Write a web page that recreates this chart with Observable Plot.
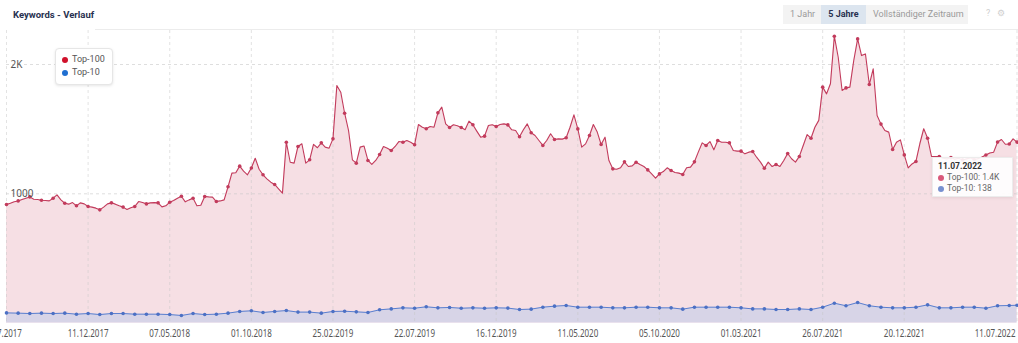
<!DOCTYPE html>
<html><head><meta charset="utf-8">
<script src="https://cdn.jsdelivr.net/npm/d3@7"></script>
<script src="https://cdn.jsdelivr.net/npm/@observablehq/plot@0.6"></script>
<style>
body{margin:0;background:#fff;font-family:Roboto,"Open Sans",sans-serif;}
#wrap{position:relative;width:1018px;height:343px;overflow:hidden;background:#fff;}
#title{position:absolute;left:13px;top:9px;font-size:9.5px;font-weight:700;color:#283150;white-space:nowrap;}
#hline{position:absolute;left:95px;right:0;top:29px;height:1px;background:#ececec;}
#btns{position:absolute;left:783px;top:5px;width:185px;height:19px;background:#f3f3f3;font-size:9px;color:#9a9a9a;}
#btns span{position:absolute;top:0;line-height:19px;white-space:nowrap;}
#b5{background:#dce5ef;color:#283150;font-weight:700;text-align:center;}
#icons{position:absolute;top:8px;left:986px;font-size:9px;color:#cfcfcf;white-space:nowrap;}
#chart{position:absolute;left:0;top:30px;}
#legend{position:absolute;left:55px;top:48px;width:56px;height:35px;background:#fff;border:1px solid #e6e6e6;border-radius:4px;box-shadow:0 1px 3px rgba(0,0,0,0.10);font-size:9px;color:#555;}
.lg{position:absolute;left:6px;white-space:nowrap;line-height:11px;}
.dot{display:inline-block;width:6px;height:6px;border-radius:50%;margin-right:4px;vertical-align:-0.5px;}
#tip{position:absolute;left:932px;top:157px;width:79px;height:38px;background:rgba(255,255,255,0.9);border:1px solid #ececec;box-shadow:0 1px 3px rgba(0,0,0,0.08);font-size:8.5px;color:#666;}
#tip div{position:absolute;left:5px;white-space:nowrap;line-height:11px;}
#tip .d{display:inline-block;width:6px;height:6px;border-radius:50%;margin-right:3px;vertical-align:-0.5px;}
</style>
</head><body>
<div id="wrap">
  <div id="title">Keywords - Verlauf</div>
  <div id="hline"></div>
  <div id="btns">
    <span style="left:7px">1 Jahr</span>
    <span id="b5" style="left:38px;width:45px">5 Jahre</span>
    <span style="left:90px">Vollständiger Zeitraum</span>
  </div>
  <div id="icons">?&nbsp;&nbsp;&nbsp;⚙</div>
  <div id="chart"></div>
  <div id="legend">
    <div class="lg" style="top:5px"><span class="dot" style="background:#d0112b"></span>Top-100</div>
    <div class="lg" style="top:18px"><span class="dot" style="background:#1f6fd1"></span>Top-10</div>
  </div>
  <div id="tip">
    <div style="top:3px;color:#333;font-weight:700">11.07.2022</div>
    <div style="top:14px"><span class="d" style="background:#d9587a"></span>Top-100: 1.4K</div>
    <div style="top:25px"><span class="d" style="background:#7790d0"></span>Top-10: 138</div>
  </div>
</div>
<script>
// weekly series starting 17.07.2017
const weekStart = "2017-07-17";
const top100Weekly = [
  917, 927, 938, 945, 956, 966, 976, 958, 956, 950,
  948, 945, 966, 992, 953, 927, 920, 932, 907, 930,
  922, 902, 897, 889, 876, 897, 922, 930, 920, 907,
  897, 879, 892, 902, 940, 932, 922, 930, 932, 930,
  899, 907, 935, 948, 966, 981, 938, 953, 966, 907,
  912, 979, 976, 974, 940, 945, 953, 1054, 1160, 1163,
  1214, 1175, 1147, 1200, 1275, 1190, 1147, 1116, 1090, 1072,
  1039, 1005, 1399, 1244, 1237, 1366, 1387, 1237, 1263, 1382,
  1356, 1394, 1361, 1353, 1425, 1837, 1786, 1623, 1490, 1263,
  1237, 1361, 1369, 1258, 1227, 1258, 1304, 1366, 1353, 1335,
  1366, 1405, 1399, 1412, 1399, 1379, 1536, 1515, 1503, 1521,
  1515, 1626, 1670, 1541, 1513, 1534, 1526, 1513, 1495, 1562,
  1534, 1485, 1438, 1446, 1528, 1534, 1521, 1536, 1541, 1533,
  1495, 1489, 1441, 1495, 1541, 1472, 1451, 1412, 1374, 1412,
  1464, 1420, 1425, 1423, 1433, 1515, 1611, 1502, 1361, 1386,
  1451, 1536, 1477, 1381, 1438, 1257, 1193, 1190, 1201, 1247,
  1211, 1216, 1244, 1226, 1211, 1185, 1154, 1121, 1154, 1172,
  1201, 1180, 1165, 1160, 1149, 1201, 1206, 1247, 1322, 1394,
  1374, 1404, 1340, 1412, 1399, 1399, 1394, 1335, 1330, 1330,
  1309, 1322, 1327, 1283, 1245, 1198, 1245, 1211, 1227, 1211,
  1258, 1312, 1271, 1245, 1289, 1374, 1458, 1430, 1515, 1568,
  1825, 1773, 1851, 2219, 2056, 1799, 1819, 1825, 2031, 2198,
  2069, 2082, 1845, 1966, 1606, 1539, 1490, 1477, 1343, 1399,
  1417, 1301, 1200, 1231, 1250, 1387, 1503, 1430, 1289, 1289,
  1289, 1275, 1270, 1280, 1268, 1275, 1262, 1270, 1278, 1265,
  1272, 1285, 1300, 1315, 1322, 1400, 1420, 1383, 1385, 1425,
  1400
];
// Top-10, one value every 3 weeks (last one = final week)
const top10Every3Weeks = [
  79, 77, 74, 77, 74, 77, 69, 74, 66, 74,
  74, 69, 69, 69, 66, 59, 74, 66, 69, 77,
  90, 95, 82, 90, 97, 85, 85, 77, 90, 92,
  87, 82, 103, 110, 118, 115, 126, 118, 121, 115,
  118, 115, 118, 116, 105, 108, 123, 131, 136, 123,
  123, 123, 118, 118, 123, 123, 118, 118, 108, 123,
  123, 123, 123, 118, 110, 110, 105, 105, 110, 105,
  123, 154, 134, 159, 134, 123, 118, 118, 123, 141,
  118, 118, 123, 123, 115, 134, 136, 138
];
const xTickLabels = ["17.07.2017","11.12.2017","07.05.2018","01.10.2018","25.02.2019","22.07.2019","16.12.2019","11.05.2020","05.10.2020","01.03.2021","26.07.2021","20.12.2021","11.07.2022"];
const yTickValues = [1000, 2000];
const yTickLabels = ["1000", "2K"];

const DAY = 86400000;
const t0 = new Date(weekStart + "T00:00:00Z");
const lastWeek = top100Weekly.length - 1;
const d100 = top100Weekly.map((v, i) => ({date: new Date(+t0 + i * 7 * DAY), v, mark: i % 3 === 0 || i === lastWeek}));
const d10 = top10Every3Weeks.map((v, k) => ({date: new Date(+t0 + Math.min(3 * k, lastWeek) * 7 * DAY), v}));
const parse = d3.utcParse("%d.%m.%Y");
const ticks = xTickLabels.map(parse);
const fmt = d3.utcFormat("%d.%m.%Y");
const lab = {frameAnchor: "bottom", dy: 10, lineAnchor: "middle", fill: "#555", fontSize: 10};

const chart = Plot.plot({
  width: 1018, height: 313,
  marginTop: 0, marginLeft: 6, marginRight: 1.5, marginBottom: 20,
  x: {type: "utc", domain: [t0, d100[lastWeek].date], range: [6, 1016.5], axis: null},
  y: {domain: [0, 2000], range: [292.6, 34], axis: null},
  style: {background: "transparent"},
  marks: [
    Plot.areaY(d100, {x: "date", y: "v", fill: "#c9415f", fillOpacity: 0.17}),
    Plot.areaY(d10, {x: "date", y: "v", fill: "#d7d4e7"}),
    Plot.ruleX(ticks, {stroke: "#c8c8c8", strokeDasharray: "3,3", strokeOpacity: 0.5}),
    Plot.ruleY(yTickValues, {stroke: "#c8c8c8", strokeDasharray: "3,3", strokeOpacity: 0.6}),
    Plot.lineY(d100, {x: "date", y: "v", stroke: "#c23b5c", strokeWidth: 1.1}),
    Plot.dot(d100.filter(d => d.mark), {x: "date", y: "v", r: 1.8, fill: "#c23b5c"}),
    Plot.lineY(d10, {x: "date", y: "v", stroke: "#5b7fcf", strokeWidth: 1}),
    Plot.dot(d10, {x: "date", y: "v", r: 1.8, fill: "#4c70c4"}),
    Plot.text(yTickValues, {y: d => d, text: (d, i) => yTickLabels[i], frameAnchor: "left", dx: 4, textAnchor: "start", fill: "#555", fontSize: 10}),
    Plot.text(ticks.slice(0, 1), {x: d => d, text: d => fmt(d), ...lab, dx: -5}),
    Plot.text(ticks.slice(1, -1), {x: d => d, text: d => fmt(d), ...lab}),
    Plot.text(ticks.slice(-1), {x: d => d, text: d => fmt(d), ...lab, textAnchor: "end", dx: -1.5})
  ]
});
// narrow (condensed) date labels as in the reference: horizontal squeeze
chart.querySelectorAll("text").forEach(t => {
  if (/^\d\d\.\d\d\.\d{4}$/.test(t.textContent)) {
    const tr = t.getAttribute("transform") || "";
    t.setAttribute("transform", tr + " scale(0.8,1)");
  }
});
document.getElementById("chart").appendChild(chart);
</script>
</body></html>
